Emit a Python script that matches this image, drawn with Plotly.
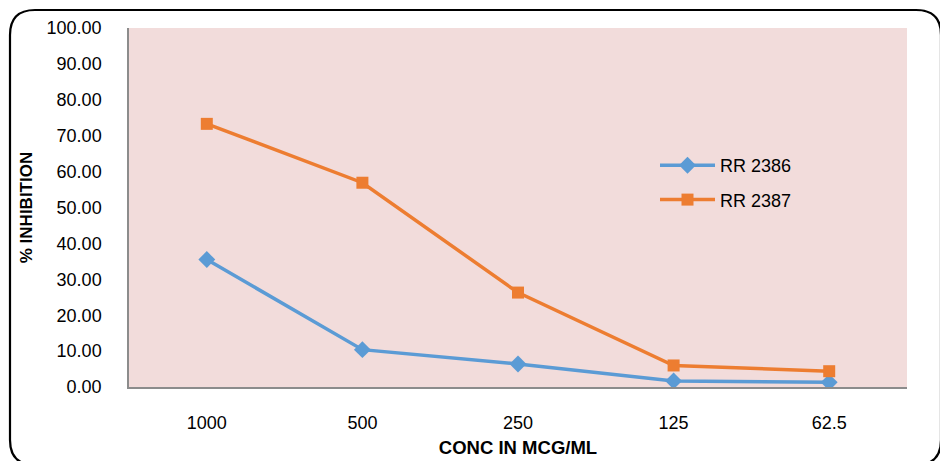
import plotly.graph_objects as go

# Concentrations (mcg/ml) and % inhibition for each sample
concentrations = ["1000", "500", "250", "125", "62.5"]
rr_2386 = [35.5, 10.4, 6.4, 1.7, 1.3]
rr_2387 = [73.3, 56.9, 26.3, 6.0, 4.4]
y_ticks = [0, 10, 20, 30, 40, 50, 60, 70, 80, 90, 100]

W, H = 940, 461
ML, MR, MT, MB = 129, 33, 28, 74
PW, PH = W - ML - MR, H - MT - MB

FONT = "Liberation Sans, Arial, sans-serif"

fig = go.Figure()
fig.add_trace(go.Scatter(
    x=concentrations, y=rr_2386, name="RR 2386", mode="lines+markers",
    line=dict(color="#5B9BD5", width=3.5),
    marker=dict(symbol="diamond", size=13, color="#5B9BD5"),
    legendgroup="a",
))
fig.add_trace(go.Scatter(
    x=concentrations, y=rr_2387, name="RR 2387", mode="lines+markers",
    line=dict(color="#ED7D31", width=3.5),
    marker=dict(symbol="square", size=12, color="#ED7D31"),
    legendgroup="b",
))


def px_x(p):
    return (p - ML) / PW


def px_y(p):
    return (H - MB - p) / PH


# rounded frame around the whole chart
x0, x1, y0, y1, r = 10, 941, 10, 465, 25
path = (
    f"M {px_x(x0 + r)},{px_y(y0)} L {px_x(x1 - r)},{px_y(y0)} "
    f"Q {px_x(x1)},{px_y(y0)} {px_x(x1)},{px_y(y0 + r)} "
    f"L {px_x(x1)},{px_y(y1 - r)} "
    f"Q {px_x(x1)},{px_y(y1)} {px_x(x1 - r)},{px_y(y1)} "
    f"L {px_x(x0 + r)},{px_y(y1)} "
    f"Q {px_x(x0)},{px_y(y1)} {px_x(x0)},{px_y(y1 - r)} "
    f"L {px_x(x0)},{px_y(y0 + r)} "
    f"Q {px_x(x0)},{px_y(y0)} {px_x(x0 + r)},{px_y(y0)} Z"
)
fig.add_shape(type="path", xref="paper", yref="paper", path=path,
              line=dict(color="black", width=2.2), layer="above")

fig.update_layout(
    width=W, height=H,
    margin=dict(l=ML, r=MR, t=MT, b=MB, autoexpand=False),
    paper_bgcolor="white",
    plot_bgcolor="#F2DCDB",
    font=dict(family=FONT, size=18, color="black"),
    showlegend=True,
    legend=dict(
        x=px_x(655), y=px_y(147), xanchor="left", yanchor="top",
        bgcolor="rgba(0,0,0,0)", font=dict(size=18),
        itemwidth=55, tracegroupgap=8,
    ),
    xaxis=dict(
        type="category", categoryorder="array", categoryarray=concentrations,
        range=[-0.5, 4.5], showgrid=False, zeroline=False,
        showline=True, linecolor="#8C8C8C", linewidth=1.5,
        ticks="", ticklabelstandoff=19, automargin=False,
        tickfont=dict(size=18),
        title=dict(text="<b>CONC IN MCG/ML</b>", font=dict(size=18.5), standoff=9),
    ),
    yaxis=dict(
        range=[0, 100], tickvals=y_ticks, tickformat=".2f",
        showgrid=False, zeroline=False,
        showline=True, linecolor="#8C8C8C", linewidth=1.5,
        ticks="", ticklabelstandoff=22, automargin=False,
        tickfont=dict(size=18),
        title=dict(text="<b>% INHIBITION</b>", font=dict(size=17), standoff=10),
    ),
)

fig.write_html("out.html")
